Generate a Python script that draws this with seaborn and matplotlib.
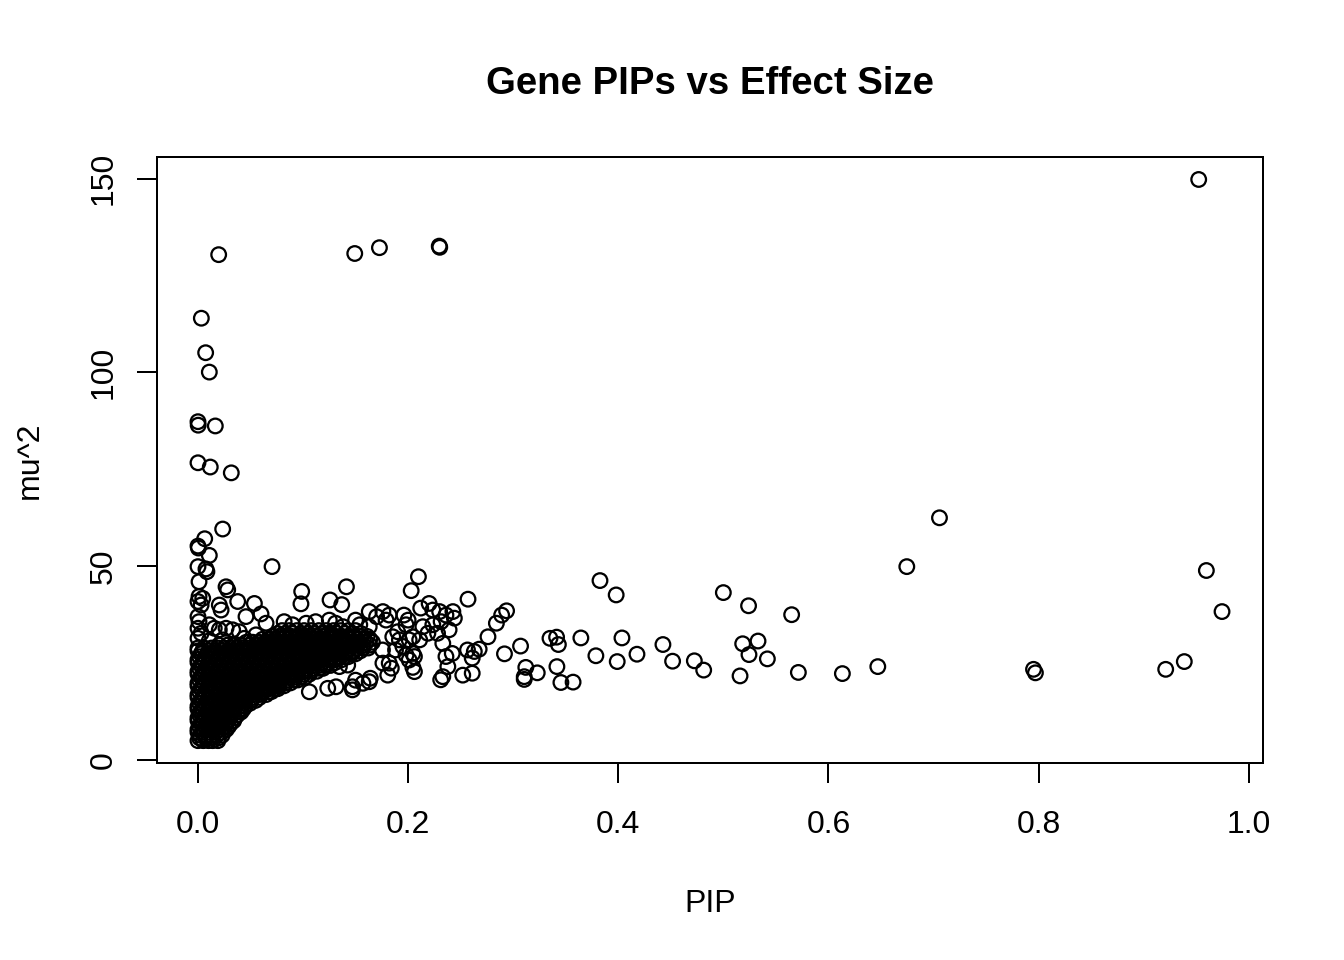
import matplotlib
matplotlib.use("Agg")
import matplotlib.pyplot as plt
import seaborn as sns
import pandas as pd

# ---------------- data ----------------
title = "Gene PIPs vs Effect Size"
x_label = "PIP"
y_label = "mu^2"
x_ticks = [0.0, 0.2, 0.4, 0.6, 0.8, 1.0]
x_tick_labels = ["0.0", "0.2", "0.4", "0.6", "0.8", "1.0"]
y_ticks = [0, 50, 100, 150]
y_tick_labels = ["0", "50", "100", "150"]

# isolated genes (PIP, mu^2)
outlier_pip = [
    0.9524, 0.2296, 0.2301, 0.1727, 0.1492, 0.0197, 0.0032, 0.0073, 0.0108, 0.0000,
    0.0002, 0.0165, 0.0000, 0.0117, 0.0317, 0.0235, 0.0064, 0.0000, 0.0004, 0.0108,
    0.0000, 0.0076, 0.0085, 0.0705, 0.0010, 0.0267, 0.0283, 0.0378, 0.0537, 0.0600,
    0.0457, 0.0648, 0.0203, 0.0220, 0.0010, 0.0045, 0.0000, 0.0030, 0.0000, 0.0010,
    0.0000, 0.0030, 0.0000, 0.0108, 0.0155, 0.0203, 0.0267, 0.0330, 0.0393, 0.0108,
    0.0235, 0.0440, 0.0552, 0.0987, 0.0980, 0.1257, 0.1368, 0.1413, 0.0820, 0.0900,
    0.1030, 0.1120, 0.1250, 0.1310, 0.1380, 0.1500, 0.1540, 0.1630, 0.1630, 0.1700,
    0.1760, 0.1790, 0.1820, 0.1960, 0.2000, 0.1980, 0.2120, 0.2200, 0.2235, 0.2300,
    0.2360, 0.2426, 0.2440, 0.2140, 0.2235, 0.2314, 0.2390, 0.2280, 0.2188, 0.2045,
    0.2110, 0.2010, 0.2045, 0.2060, 0.1760, 0.1820, 0.1840, 0.1806, 0.2045, 0.2060,
    0.1950, 0.1917, 0.1854, 0.1900, 0.1756, 0.1880, 0.1980, 0.2010, 0.1500, 0.1570,
    0.1630, 0.1640, 0.1470, 0.1470, 0.1314, 0.1235, 0.1060, 0.1425, 0.1346, 0.2098,
    0.2029, 0.2570, 0.2330, 0.2420, 0.2360, 0.2565, 0.2630, 0.2610, 0.2330, 0.2310,
    0.2520, 0.2610, 0.2378, 0.2676, 0.2760, 0.2840, 0.2890, 0.2937, 0.2917, 0.3070,
    0.3120, 0.3105, 0.3105, 0.3229, 0.3350, 0.3413, 0.3430, 0.3416, 0.3454, 0.3570,
    0.3644, 0.3787, 0.3826, 0.3980, 0.3990, 0.4035, 0.4178, 0.4425, 0.4517, 0.4724,
    0.4813, 0.5000, 0.5159, 0.5184, 0.5244, 0.5240, 0.5330, 0.5419, 0.5650, 0.5714,
    0.6133, 0.6470, 0.6746, 0.7057, 0.7952, 0.7970, 0.9210, 0.9387, 0.9597, 0.9746,
]
outlier_mu2 = [
    149.8, 132.6, 132.3, 132.2, 130.7, 130.4, 114.0, 105.1, 100.1, 87.3,
    86.4, 86.2, 76.7, 75.6, 74.1, 59.6, 57.1, 55.2, 54.7, 52.8,
    49.9, 49.3, 48.6, 49.9, 46.0, 44.7, 43.9, 40.9, 40.4, 37.7,
    37.0, 35.3, 40.0, 38.7, 42.2, 41.7, 40.9, 40.0, 37.0, 35.7,
    34.0, 32.7, 31.4, 34.9, 34.0, 33.6, 34.0, 33.6, 33.1, 30.8,
    31.0, 31.4, 32.3, 43.5, 40.3, 41.3, 40.1, 44.7, 35.7, 34.9,
    35.3, 35.7, 36.1, 35.3, 34.4, 36.1, 34.9, 34.4, 38.3, 37.0,
    38.3, 36.1, 37.4, 37.4, 36.1, 34.9, 39.2, 40.4, 38.7, 38.3,
    37.4, 38.3, 36.6, 34.4, 34.9, 35.7, 33.6, 32.7, 32.7, 31.8,
    31.0, 31.0, 27.5, 26.7, 25.0, 25.0, 23.7, 21.9, 23.9, 22.8,
    29.3, 31.0, 31.8, 33.1, 28.4, 28.4, 27.1, 25.8, 20.6, 19.8,
    20.2, 21.1, 18.1, 18.9, 18.9, 18.5, 17.6, 24.5, 24.1, 47.3,
    43.7, 41.5, 30.1, 27.5, 26.7, 28.4, 28.0, 26.3, 21.5, 20.7,
    21.9, 22.4, 24.1, 28.6, 31.8, 35.3, 37.4, 38.5, 27.4, 29.4,
    23.9, 21.5, 20.8, 22.5, 31.4, 31.7, 29.8, 24.1, 20.0, 20.1,
    31.5, 26.9, 46.3, 42.6, 25.4, 31.5, 27.3, 29.8, 25.5, 25.6,
    23.2, 43.2, 21.7, 30.0, 27.2, 39.8, 30.7, 26.1, 37.5, 22.6,
    22.3, 24.1, 49.9, 62.5, 23.4, 22.5, 23.4, 25.4, 48.9, 38.3,
]

# densely packed genes near PIP = 0, estimated row by row (mu^2 level, PIP values)
core_rows = [
    (5.0,  [0.000, 0.005, 0.010, 0.014, 0.019]),
    (5.7,  [0.0015, 0.0075, 0.0135, 0.0195]),
    (6.4,  [0.002, 0.008, 0.013, 0.018, 0.023]),
    (7.15, [0.000, 0.0045, 0.0105, 0.0165, 0.0225]),
    (7.9,  [0.000, 0.005, 0.011, 0.016, 0.022, 0.027]),
    (8.65, [0.0015, 0.0075, 0.0135, 0.0195, 0.0255, 0.029]),
    (9.4,  [0.003, 0.008, 0.014, 0.020, 0.026, 0.031]),
    (10.15, [0.000, 0.0045, 0.0105, 0.0165, 0.0225, 0.0285, 0.034]),
    (10.9, [0.000, 0.006, 0.011, 0.017, 0.023, 0.029, 0.035]),
    (11.65, [0.0015, 0.0075, 0.0135, 0.0195, 0.0255, 0.0315, 0.0375]),
    (12.4, [0.002, 0.009, 0.015, 0.020, 0.026, 0.032, 0.038, 0.041]),
    (13.15, [0.000, 0.0045, 0.0105, 0.0165, 0.0225, 0.0285, 0.0345, 0.0405, 0.043]),
    (13.9, [0.000, 0.006, 0.012, 0.018, 0.024, 0.029, 0.035, 0.041, 0.045]),
    (14.65, [0.0015, 0.0075, 0.0135, 0.0195, 0.0255, 0.0315, 0.0375, 0.0435, 0.0495]),
    (15.4, [0.003, 0.009, 0.015, 0.020, 0.026, 0.032, 0.038, 0.044, 0.050, 0.055]),
    (16.15, [0.000, 0.0045, 0.0105, 0.0165, 0.0225, 0.0285, 0.0345, 0.0405, 0.0465,
             0.0525, 0.0585]),
    (16.9, [0.000, 0.006, 0.012, 0.018, 0.024, 0.029, 0.035, 0.041, 0.047, 0.053,
            0.059, 0.065]),
    (17.65, [0.0015, 0.0075, 0.0135, 0.0195, 0.0255, 0.0315, 0.0375, 0.0435, 0.0495,
             0.0555, 0.0615, 0.0675, 0.070]),
    (18.4, [0.003, 0.009, 0.015, 0.021, 0.027, 0.033, 0.039, 0.045, 0.050, 0.056,
            0.062, 0.068, 0.073, 0.076]),
    (19.15, [0.000, 0.0045, 0.0105, 0.0165, 0.0225, 0.0285, 0.0345, 0.0405, 0.0465,
             0.0525, 0.0585, 0.0645, 0.0705, 0.0765, 0.082]),
    (19.9, [0.000, 0.006, 0.012, 0.018, 0.024, 0.030, 0.036, 0.042, 0.048, 0.054,
            0.059, 0.065, 0.071, 0.077, 0.083, 0.088]),
    (20.65, [0.0015, 0.0075, 0.0135, 0.0195, 0.0255, 0.0315, 0.0375, 0.0435, 0.0495,
             0.0555, 0.0615, 0.0675, 0.0735, 0.0795, 0.0855, 0.0915, 0.095]),
    (21.4, [0.003, 0.009, 0.015, 0.021, 0.027, 0.033, 0.039, 0.045, 0.051, 0.057,
            0.063, 0.069, 0.074, 0.080, 0.086, 0.092, 0.098, 0.102]),
    (22.15, [0.000, 0.0045, 0.0105, 0.0165, 0.0225, 0.0285, 0.0345, 0.0405, 0.0465,
             0.0525, 0.0585, 0.0645, 0.0705, 0.0765, 0.0825, 0.0885, 0.0945, 0.1005,
             0.106]),
    (22.9, [0.000, 0.006, 0.012, 0.018, 0.024, 0.030, 0.036, 0.042, 0.048, 0.054,
            0.060, 0.066, 0.072, 0.078, 0.083, 0.089, 0.095, 0.101, 0.107, 0.113]),
    (23.65, [0.0015, 0.0075, 0.0135, 0.0195, 0.0255, 0.0315, 0.0375, 0.0435, 0.0495,
             0.0555, 0.0615, 0.0675, 0.0735, 0.0795, 0.0855, 0.0915, 0.0975, 0.1035,
             0.1095, 0.1155, 0.119]),
    (24.4, [0.003, 0.009, 0.015, 0.021, 0.027, 0.033, 0.039, 0.045, 0.051, 0.057,
            0.063, 0.069, 0.075, 0.081, 0.087, 0.093, 0.098, 0.104, 0.110, 0.116,
            0.122, 0.126]),
    (25.15, [0.000, 0.0045, 0.0105, 0.0165, 0.0225, 0.0285, 0.0345, 0.0405, 0.0465,
             0.0525, 0.0585, 0.0645, 0.0705, 0.0765, 0.0825, 0.0885, 0.0945, 0.1005,
             0.1065, 0.1125, 0.1185, 0.1245, 0.1305]),
    (25.9, [0.000, 0.006, 0.012, 0.018, 0.024, 0.030, 0.036, 0.042, 0.048, 0.054,
            0.060, 0.066, 0.072, 0.078, 0.084, 0.090, 0.096, 0.102, 0.107, 0.113,
            0.119, 0.125, 0.131, 0.137]),
    (26.65, [0.0015, 0.0075, 0.0135, 0.0195, 0.0255, 0.0315, 0.0375, 0.0435, 0.0495,
             0.0555, 0.0615, 0.0675, 0.0735, 0.0795, 0.0855, 0.0915, 0.0975, 0.1035,
             0.1095, 0.1155, 0.1215, 0.1275, 0.1335, 0.1395, 0.143]),
    (27.4, [0.003, 0.009, 0.015, 0.021, 0.027, 0.033, 0.039, 0.045, 0.051, 0.057,
            0.063, 0.069, 0.075, 0.081, 0.087, 0.093, 0.099, 0.105, 0.111, 0.117,
            0.122, 0.128, 0.134, 0.140, 0.146, 0.150]),
    (28.15, [0.000, 0.0045, 0.0105, 0.0165, 0.0225, 0.0285, 0.0345, 0.0405, 0.0465,
             0.0525, 0.0585, 0.0645, 0.0705, 0.0765, 0.0825, 0.0885, 0.0945, 0.1005,
             0.1065, 0.1125, 0.1185, 0.1245, 0.1305, 0.1365, 0.1425, 0.1485, 0.1545]),
    (28.9, [0.000, 0.006, 0.013, 0.019, 0.025, 0.031, 0.037, 0.043, 0.049, 0.055,
            0.061, 0.067, 0.073, 0.079, 0.085, 0.091, 0.097, 0.103, 0.109, 0.115,
            0.121, 0.127, 0.133, 0.139, 0.145, 0.151, 0.157, 0.162]),
    (29.65, [0.020, 0.028, 0.034, 0.040, 0.0495, 0.0555, 0.0615, 0.0675, 0.0735,
             0.0795, 0.0855, 0.0915, 0.0975, 0.1035, 0.1095, 0.1155, 0.1215, 0.1275,
             0.1335, 0.1395, 0.1455, 0.1515, 0.1575, 0.1635]),
    (30.4, [0.046, 0.052, 0.058, 0.064, 0.070, 0.076, 0.082, 0.088, 0.094, 0.100,
            0.106, 0.112, 0.118, 0.124, 0.130, 0.136, 0.142, 0.148, 0.154, 0.160,
            0.166]),
    (31.15, [0.0615, 0.0675, 0.0735, 0.0795, 0.0855, 0.0915, 0.0975, 0.1035, 0.1095,
             0.1155, 0.1215, 0.1275, 0.1335, 0.1395, 0.1455, 0.1515, 0.1575, 0.1635]),
    (31.9, [0.071, 0.077, 0.083, 0.089, 0.095, 0.101, 0.107, 0.113, 0.119, 0.125,
            0.131, 0.137, 0.143, 0.149, 0.155, 0.161]),
    (32.65, [0.076, 0.083, 0.090, 0.098, 0.104, 0.110, 0.118, 0.124, 0.132, 0.140,
             0.147, 0.155]),
    (33.4, [0.080, 0.087, 0.094, 0.101, 0.108, 0.115, 0.122, 0.129, 0.136, 0.143,
            0.150]),
]

# ---------------- assemble ----------------
pip_all = list(outlier_pip)
mu2_all = list(outlier_mu2)
for level, xs in core_rows:
    for xv in xs:
        pip_all.append(xv)
        mu2_all.append(level)
df = pd.DataFrame({"PIP": pip_all, "mu2": mu2_all})

# ---------------- style ----------------
sns.set_style("ticks")
plt.rcParams["font.family"] = ["Liberation Sans", "DejaVu Sans"]
plt.rcParams["axes.linewidth"] = 0.75

fig = plt.figure(figsize=(7, 5), dpi=192)
ax = fig.add_axes([157 / 1344, 1 - 763 / 960, (1263 - 157) / 1344, (763 - 157) / 960])

sns.scatterplot(data=df, x="PIP", y="mu2", ax=ax, marker="o", s=30,
                facecolor="none", edgecolor="black", linewidth=0.85, legend=False)

ax.set_xlim(-0.039, 1.0136)
ax.set_ylim(-0.77, 155.6)

for sp in ax.spines.values():
    sp.set_visible(True)
    sp.set_color("black")
    sp.set_linewidth(0.75)

ax.set_xticks(x_ticks)
ax.set_xticklabels(x_tick_labels)
ax.set_yticks(y_ticks)
ax.set_yticklabels(y_tick_labels, rotation=90, va="center")
ax.tick_params(axis="both", direction="out", length=7.5, width=0.75,
               colors="black", labelsize=12)
ax.tick_params(axis="x", pad=10.3)
ax.tick_params(axis="y", pad=7.0)

ax.set_xlabel(x_label, fontsize=12, color="black")
ax.xaxis.label.set_va("baseline")
ax.xaxis.set_label_coords(0.5, (763 - 911.5) / 606)
ax.set_ylabel(y_label, fontsize=12, color="black")
ax.yaxis.label.set_va("baseline")
ax.yaxis.set_label_coords((38 - 157) / 1106, 0.5)

ax.set_title(title, fontsize=14.4, fontweight="bold", color="black",
             y=(763 - 94) / 606, va="baseline", pad=0)

fig.savefig("out.png", dpi=192, facecolor="white")
